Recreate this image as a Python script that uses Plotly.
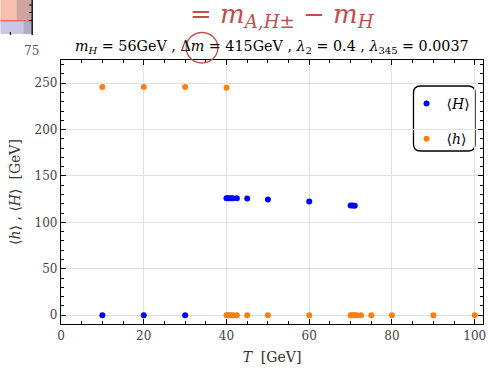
import plotly.graph_objects as go

# ---- data ----
H_T = [10, 20, 30, 40, 40.3, 40.6, 41, 41.5, 42.5, 45, 50, 60, 70, 70.5, 71]
H_vev = [0, 0, 0, 126, 126, 126, 126, 126, 126, 125.7, 124.6, 122.4, 118.3, 118.1, 118.0]

h_T = [10, 20, 30, 40, 40, 40.3, 40.6, 41, 41.5, 42.5, 45, 50, 60, 70, 70.3, 70.6, 71, 71.5, 72.5, 75, 80, 90, 100]
h_vev = [246, 246, 246, 245, 0, 0, 0, 0, 0, 0, 0, 0, 0, 0, 0, 0, 0, 0, 0, 0, 0, 0, 0]

x_ticks = [0, 20, 40, 60, 80, 100]
y_ticks = [0, 50, 100, 150, 200, 250]

FONT = "DejaVu Serif"
W, Hh = 489, 375
L, R, T, B = 61, 486, 60, 324

def px(x):
    return (x - L) / (R - L)

def py(y):
    return (B - y) / (B - T)

fig = go.Figure()
fig.add_trace(go.Scatter(x=H_T, y=H_vev, mode="markers", name="⟨<i>H</i>⟩",
                         legendgroup="a",
                         marker=dict(color="#0000ff", size=6, line=dict(width=0))))
fig.add_trace(go.Scatter(x=h_T, y=h_vev, mode="markers", name="⟨<i>h</i>⟩",
                         legendgroup="b",
                         marker=dict(color="#ff7f0e", size=6, line=dict(width=0))))

axis_common = dict(showline=True, linecolor="black", linewidth=1.3, mirror="ticks",
                   ticks="inside", ticklen=5, tickcolor="black", tickwidth=1,
                   showgrid=True, gridcolor="#e0e0e0", gridwidth=1.3, zeroline=False,
                   ticklabeloverflow="allow",
                   tickfont=dict(family=FONT, size=12, color="#444"))

fig.update_xaxes(range=[0, 102], tickvals=x_ticks,
                 minor=dict(dtick=5, ticks="inside", ticklen=3, tickcolor="black", showgrid=False),
                 title=dict(text="<i>T</i>  [GeV]", font=dict(family=FONT, size=14, color="#333"), standoff=10),
                 **axis_common)
fig.update_yaxes(range=[-9.5, 275], tickvals=y_ticks,
                 minor=dict(dtick=10, ticks="inside", ticklen=3, tickcolor="black", showgrid=False),
                 title=dict(text="⟨<i>h</i>⟩ , ⟨<i>H</i>⟩  [GeV]", font=dict(family=FONT, size=14, color="#333"), standoff=10),
                 **axis_common)

shapes = []
# rounded legend box
x0, x1, y0, y1, r = 416, 478, 86, 151, 7
path = (f"M {px(x0+r)},{py(y0)} L {px(x1-r)},{py(y0)} Q {px(x1)},{py(y0)} {px(x1)},{py(y0+r)} "
        f"L {px(x1)},{py(y1-r)} Q {px(x1)},{py(y1)} {px(x1-r)},{py(y1)} "
        f"L {px(x0+r)},{py(y1)} Q {px(x0)},{py(y1)} {px(x0)},{py(y1-r)} "
        f"L {px(x0)},{py(y0+r)} Q {px(x0)},{py(y0)} {px(x0+r)},{py(y0)} Z")
shapes.append(dict(type="path", xref="paper", yref="paper", path=path,
                   line=dict(color="black", width=1.3), fillcolor="white", layer="below"))
# red circle around Δm
shapes.append(dict(type="circle", xref="paper", yref="paper",
                   x0=px(187), x1=px(219), y0=py(63), y1=py(32.5),
                   line=dict(color="#c0504d", width=1.3)))
# fragment of another picture at top-left
def rect(a, b, c, d, col):
    shapes.append(dict(type="rect", xref="paper", yref="paper", x0=px(a), x1=px(b),
                       y0=py(d), y1=py(c), fillcolor=col, line=dict(width=0), layer="above"))
rect(0, 16, 0, 20, "#f8bfae")
rect(16, 32, 0, 20, "#cda59c")
rect(0, 23, 21, 34, "#cac6e4")
rect(23, 32, 21, 34, "#b0acc4")
rect(0, 32, 20, 21.5, "#e8705e")
shapes.append(dict(type="line", xref="paper", yref="paper", x0=px(32), x1=px(32), y0=py(0), y1=py(35),
                   line=dict(color="black", width=1.3)))
for yy in [5, 12.5, 20.5]:
    shapes.append(dict(type="line", xref="paper", yref="paper", x0=px(29), x1=px(32), y0=py(yy), y1=py(yy),
                       line=dict(color="black", width=1)))
shapes.append(dict(type="line", xref="paper", yref="paper", x0=px(10), x1=px(10), y0=py(35), y1=py(32),
                   line=dict(color="black", width=1)))

annotations = [
    dict(text="<i>m</i><sub><i>H</i></sub> = 56GeV , Δ<i>m</i> = 415GeV , <i>λ</i><sub>2</sub> = 0.4 , <i>λ</i><sub>345</sub> = 0.0037",
         xref="paper", yref="paper", x=px(273), y=py(47), xanchor="center", yanchor="middle",
         showarrow=False, font=dict(family=FONT, size=14.3, color="black")),
    dict(text="= <i>m</i><sub><i>A,H</i>±</sub> − <i>m</i><sub><i>H</i></sub>",
         xref="paper", yref="paper", x=px(284), y=py(15), xanchor="center", yanchor="middle",
         showarrow=False, font=dict(family=FONT, size=26, color="#c0504d")),
    dict(text="75", xref="paper", yref="paper", x=px(31), y=py(51), xanchor="center", yanchor="middle",
         showarrow=False, font=dict(family=FONT, size=12, color="#555")),
]

fig.update_layout(
    width=W, height=Hh, margin=dict(l=L, r=W - R, t=T, b=Hh - B),
    paper_bgcolor="white", plot_bgcolor="white",
    showlegend=True,
    legend=dict(x=px(409), y=py(88), xanchor="left", yanchor="top",
                bgcolor="rgba(0,0,0,0)", borderwidth=0, traceorder="grouped",
                tracegroupgap=14, font=dict(family=FONT, size=14, color="black")),
    shapes=shapes, annotations=annotations,
)

fig.write_html("out.html")
